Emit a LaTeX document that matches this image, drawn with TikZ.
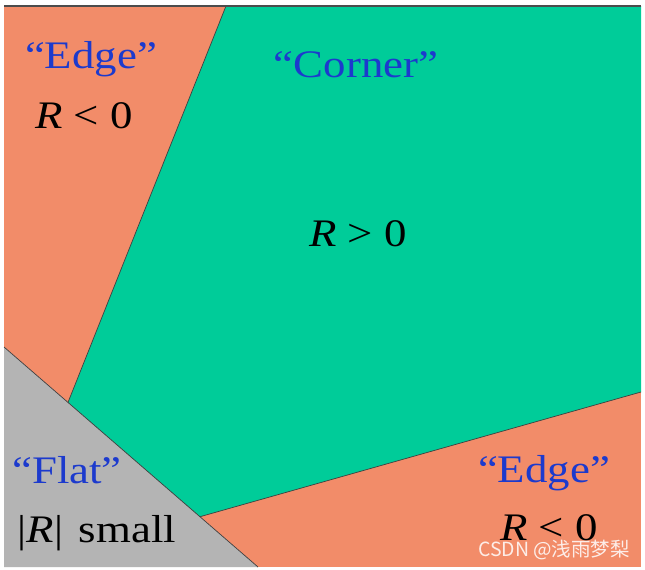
\documentclass[tikz,border=0pt]{standalone}
\usepackage{fontspec}
\setmainfont{Liberation Serif}[FakeStretch=1.15]
\newfontfamily\cjkfont{Noto Sans CJK SC}
\definecolor{edgeorange}{RGB}{242,140,105}
\definecolor{cornergreen}{RGB}{0,204,153}
\definecolor{flatgray}{RGB}{180,180,180}
\definecolor{labelblue}{RGB}{28,58,205}
\tikzset{
  region/.style={draw=black!75, line width=0.7pt, line join=round},
  title/.style={text=labelblue, font=\fontsize{39}{40}\selectfont, anchor=base, inner sep=0pt},
  value/.style={text=black, font=\fontsize{39}{40}\selectfont, anchor=base, inner sep=0pt},
}
\begin{document}
\begin{tikzpicture}[x=1pt,y=-1pt]
\useasboundingbox (0,0) rectangle (645,570);
\fill[white] (0,0) rectangle (645,570);
% orange background
\fill[edgeorange] (4,6) rectangle (641,567);
% flat region
\fill[flatgray] (4,347) -- (258,567) -- (4,567) -- cycle;
% corner region
\fill[cornergreen] (226,6) -- (641,6) -- (641,392) -- (200,516.7) -- (68,402.4) -- cycle;
\draw[region] (226,6) -- (68,402.4);
\draw[region] (200,516.7) -- (641,392);
\draw[region] (4,347) -- (258,567);
% top border
\draw[black!70, line width=1.6pt] (4,6) -- (641,6);
% labels
\node[title] (edgeA) at (91,68) {“Edge”};
\node[value] (edgeAv) at (84,128) {\itshape R\upshape\ < 0};
\node[title] (corner) at (356,77) {“Corner”};
\node[value] (cornerv) at (358,246) {\itshape R\upshape\ > 0};
\node[title] (flat) at (67,483) {“Flat”};
\node[value] (flatv) at (97,542) {|\itshape R\upshape|\hspace{0.4em}small};
\node[title] (edgeB) at (544,482) {“Edge”};
\node[value] (edgeBv) at (549,540) {\itshape R\upshape\ < 0};
\node[text=white, opacity=0.85, font=\cjkfont\fontsize{19.5}{20}\selectfont, inner sep=0pt] (mark) at (554,550) {CSDN @浅雨梦梨};
\end{tikzpicture}
\end{document}
